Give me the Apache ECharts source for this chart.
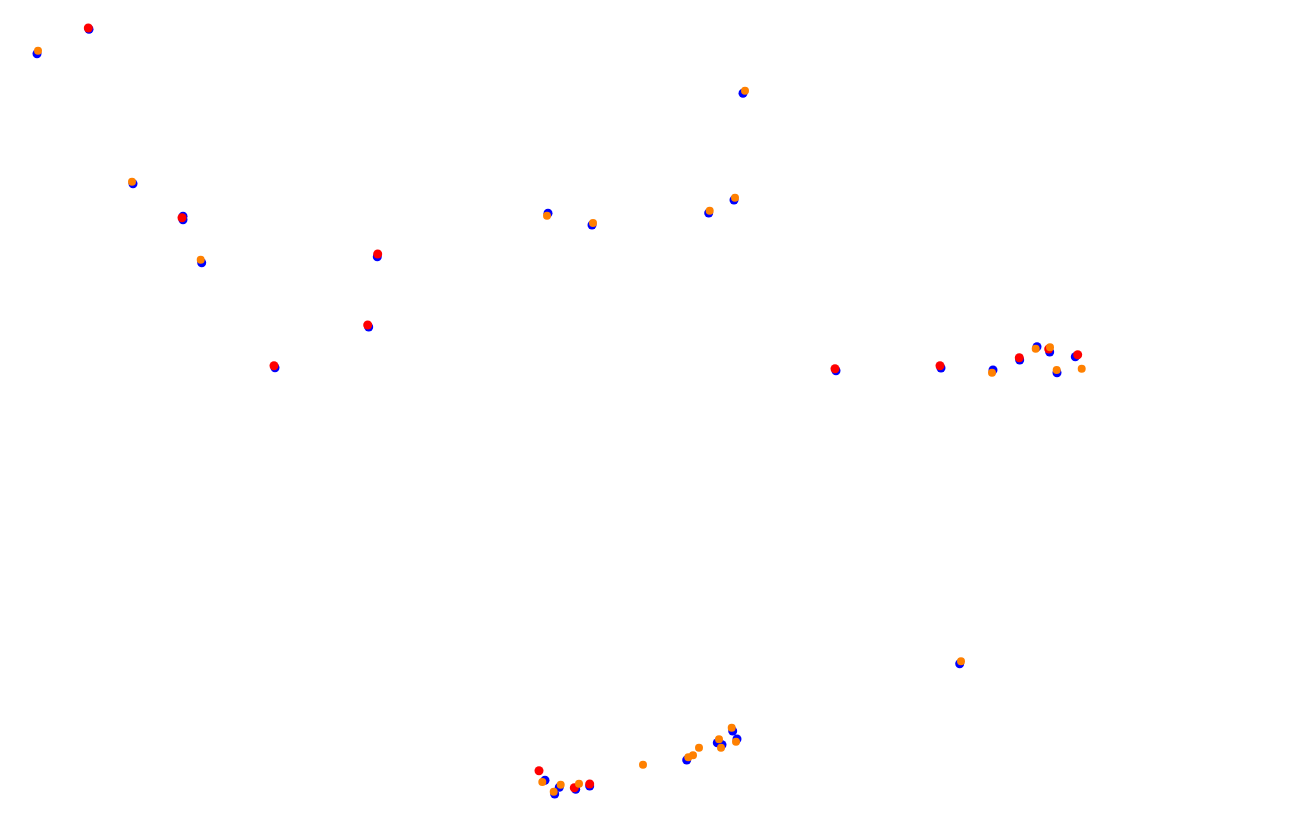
<!DOCTYPE html>
<html>
<head>
<meta charset="utf-8">
<script src="https://cdn.jsdelivr.net/npm/echarts@6/dist/echarts.min.js"></script>
<style>html,body{margin:0;padding:0;background:#fff;}#c{width:1296px;height:822px;}</style>
</head>
<body>
<div id="c"></div>
<script>
// Values (x to the right, y downward)
const blueX = [89, 37, 133, 183, 183, 201.7, 377.3, 368.7, 275, 743, 548, 592, 708.7, 734, 836, 941, 993, 1019.7, 1037, 1049.7, 1057, 1075.3, 545, 554.7, 559.3, 575.7, 589.7, 686.7, 717.3, 722, 732.7, 737, 959.7];
const blueY = [29.3, 53.7, 183.7, 216.3, 219.7, 262.7, 256.7, 327, 367.7, 93.3, 213.3, 225, 213, 200, 370.7, 368, 370, 360, 346.7, 352, 372.7, 356.7, 780.3, 794, 787.3, 789.3, 786, 760, 742.7, 744.7, 731, 739, 663.7];

const redX = [88.3, 182, 377.7, 367.7, 274, 835, 940, 1019.3, 1048.7, 1077.7, 539, 574.3, 589.7];
const redY = [28, 217.7, 254, 325, 365.7, 368.7, 365.7, 357.7, 349, 354.7, 770.7, 787.7, 784];

const orangeX = [38, 132, 200.7, 745, 547, 593, 709.7, 735, 992, 1035.7, 1050, 1056.7, 1081.7, 542.3, 553.7, 560.7, 579, 643, 688.3, 693, 699, 719, 721, 731.7, 736, 961];
const orangeY = [50.7, 181.7, 259.7, 90.7, 215.7, 223, 210.7, 197.7, 372.7, 348.7, 347.3, 370, 368.7, 782, 791.7, 784.7, 783.7, 764.7, 757.3, 755.3, 747.7, 739.3, 747.7, 727.7, 741.7, 661.3];

const zip = (xs, ys) => xs.map((x, i) => [x, ys[i]]);

const chart = echarts.init(document.getElementById('c'), null, {renderer: 'canvas'});
chart.setOption({
  backgroundColor: '#ffffff',
  animation: false,
  grid: {left: 0, right: 0, top: 0, bottom: 0},
  xAxis: {type: 'value', min: 0, max: 1296, show: false},
  yAxis: {type: 'value', min: 0, max: 822, inverse: true, show: false},
  series: [
    {name: 'blue', type: 'scatter', data: zip(blueX, blueY), symbolSize: 9, itemStyle: {color: '#0000ff', opacity: 1}},
    {name: 'red', type: 'scatter', data: zip(redX, redY), symbolSize: 9, itemStyle: {color: '#ff0000', opacity: 1}},
    {name: 'orange', type: 'scatter', data: zip(orangeX, orangeY), symbolSize: 8, itemStyle: {color: '#ff8000', opacity: 1}}
  ]
});
</script>
</body>
</html>
